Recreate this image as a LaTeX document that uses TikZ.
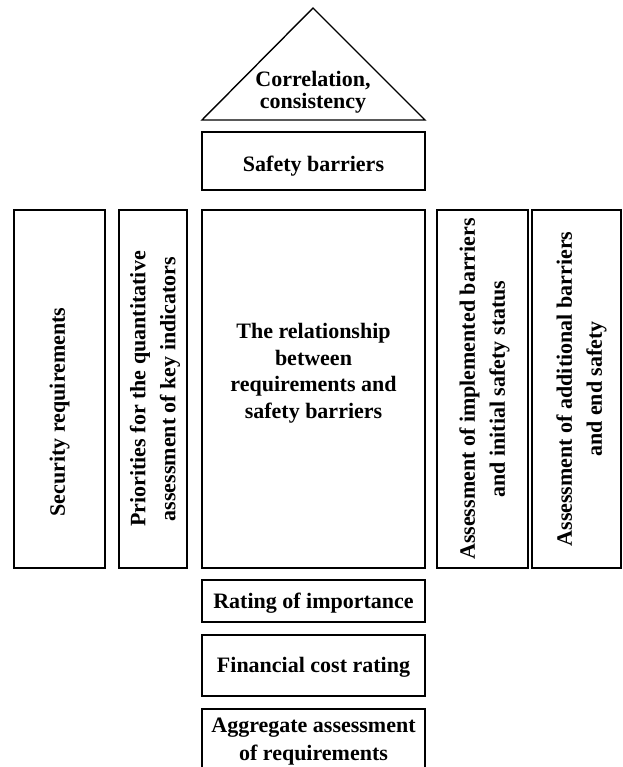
\documentclass[tikz,border=0pt]{standalone}
\usepackage{fontspec}
\setmainfont{Liberation Serif}
\usepackage{tikz}
\usetikzlibrary{positioning,calc,shadows}
\def\fs{22}

\begin{document}
\begin{tikzpicture}[x=1pt,y=-1pt,declare function={lw=1.4;}]
		\tikzstyle{boxstyle} = [draw,line width=lw,fill=white,align=center,inner sep=0pt,
			drop shadow={opacity=.18,shadow xshift=1.2pt,shadow yshift=-1.2pt},font=\bfseries\fontsize{\fs}{26}\selectfont]
		\tikzstyle{vboxstyle} = [boxstyle,rotate=90]
		\tikzstyle{txtstyle} = [align=center,inner sep=0pt,font=\bfseries\fontsize{\fs}{26}\selectfont]
		\useasboundingbox (0,0) rectangle (622,767);
		% roof
		\coordinate (apex) at (313,8);
		\coordinate (roofL) at (202,120);
		\coordinate (roofR) at (425,120);
		\draw[line width=lw,line join=miter] (roofL)--(apex)--(roofR)--cycle;
		\node[txtstyle,font=\bfseries\fontsize{\fs}{22}\selectfont] (corr) at (313,92) {Correlation,\\consistency};
		% top
		\node[boxstyle,minimum width=223,minimum height=58] (safety) at (313.5,161) {};
		\node[txtstyle] (safetytxt) at ([yshift=-5pt]safety.center) {Safety barriers};
		% middle row
		\node[vboxstyle,minimum width=358,minimum height=91] (secur) at (59.5,389) {};
		\node[txtstyle,rotate=90] (securtxt) at ([yshift=-23pt]secur.center) {Security requirements};
		\node[vboxstyle,minimum width=358,minimum height=68] (prio) at (153,389) {};
		\node[txtstyle,rotate=90,font=\bfseries\fontsize{\fs}{30}\selectfont] (priotxt) at ([xshift=2pt]prio.center) {Priorities for the quantitative\\assessment of key indicators};
		\node[boxstyle,minimum width=223,minimum height=358] (relat) at (313.5,389) {};
		\node[txtstyle,font=\bfseries\fontsize{\fs}{26.5}\selectfont] (relattxt) at ([yshift=16pt]relat.center) {The relationship\\between\\requirements and\\safety barriers};
		\node[vboxstyle,minimum width=358,minimum height=91] (impl) at (482.5,389) {};
		\node[txtstyle,rotate=90,font=\bfseries\fontsize{\fs}{30}\selectfont] (impltxt) at ([xshift=2pt]impl.center) {Assessment of implemented barriers\\and initial safety status};
		\node[vboxstyle,minimum width=358,minimum height=89] (addl) at (576.5,389) {};
		\node[txtstyle,rotate=90,font=\bfseries\fontsize{\fs}{30}\selectfont] (addltxt) at ([xshift=5pt]addl.center) {Assessment of additional barriers\\and end safety};
		% bottom
		\node[boxstyle,minimum width=223,minimum height=42] (rating) at (313.5,601) {};
		\node[txtstyle] (ratingtxt) at ([yshift=-2pt]rating.center) {Rating of importance};
		\node[boxstyle,minimum width=223,minimum height=61] (finan) at (313.5,665.5) {};
		\node[txtstyle] (finantxt) at ([yshift=-2pt]finan.center) {Financial cost rating};
		\node[boxstyle,minimum width=223,minimum height=62] (aggr) at (313.5,740) {};
		\node[txtstyle,font=\bfseries\fontsize{\fs}{28}\selectfont] (aggrtxt) at (313.5,742) {Aggregate assessment\\of requirements};
\end{tikzpicture}
\end{document}
